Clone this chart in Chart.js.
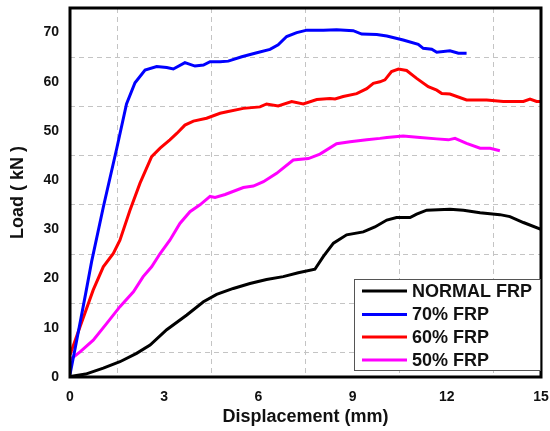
<!DOCTYPE html>
<html>
<head>
<meta charset="utf-8">
<script src="https://cdn.jsdelivr.net/npm/chart.js@4/dist/chart.umd.min.js"></script>
<style>
  html, body { margin: 0; padding: 0; background: #fff; }
</style>
</head>
<body>
<canvas id="loadChart" width="550" height="431"></canvas>
<script>
// load vs displacement
const seriesNames = ["NORMAL FRP", "70% FRP", "60% FRP", "50% FRP"];
const seriesColors = ["#000000", "#0000ff", "#ff0000", "#ff00ff"];

const dispNormal = [0, 0.5, 1.06, 1.59, 2.12, 2.55, 3.08, 3.72, 4.25, 4.67, 5.2, 5.73, 6.26, 6.79, 7.27, 7.8, 8.07, 8.39, 8.81, 9.34, 9.71, 10.09, 10.4, 10.83, 11.04, 11.36, 12.1, 12.53, 13.06, 13.69, 14.01, 14.44, 15];
const loadNormal = [0.1, 0.6, 1.8, 3.1, 4.8, 6.5, 9.6, 12.6, 15.3, 16.8, 18.0, 19.0, 19.8, 20.4, 21.2, 21.9, 24.5, 27.2, 28.9, 29.5, 30.5, 31.9, 32.4, 32.4, 33.1, 33.9, 34.1, 33.9, 33.4, 33.0, 32.6, 31.4, 30.0];

const disp70 = [0, 0.2, 0.35, 0.5, 0.69, 1.06, 1.49, 1.8, 2.07, 2.39, 2.76, 3.08, 3.29, 3.66, 3.98, 4.25, 4.46, 4.78, 5.04, 5.47, 5.95, 6.37, 6.63, 6.9, 7.22, 7.54, 8.07, 8.49, 9.02, 9.29, 9.77, 10.09, 10.61, 11.09, 11.25, 11.52, 11.68, 12.1, 12.37, 12.63];
const load70 = [0.5, 7, 12, 17, 23.5, 34.5, 46.5, 55.5, 59.8, 62.4, 63.1, 62.9, 62.6, 63.9, 63.2, 63.4, 64.1, 64.1, 64.2, 65.1, 65.9, 66.6, 67.5, 69.2, 70.0, 70.5, 70.5, 70.6, 70.4, 69.7, 69.6, 69.3, 68.5, 67.6, 66.8, 66.6, 66.0, 66.3, 65.8, 65.8];

const disp60 = [0, 0.32, 0.74, 1.06, 1.38, 1.59, 1.91, 2.23, 2.6, 2.87, 3.18, 3.4, 3.66, 3.93, 4.35, 4.78, 5.0, 5.52, 6.05, 6.26, 6.63, 7.06, 7.43, 7.86, 8.28, 8.44, 8.7, 9.13, 9.45, 9.66, 9.87, 10.03, 10.24, 10.46, 10.72, 11.04, 11.41, 11.68, 11.84, 12.1, 12.63, 13.27, 13.8, 14.44, 14.65, 14.86, 15];
const load60 = [4.5, 10.2, 17.7, 22.4, 25.1, 27.8, 33.9, 39.4, 44.8, 46.5, 48.2, 49.5, 51.2, 52.0, 52.6, 53.6, 53.9, 54.6, 54.9, 55.5, 55.1, 56.0, 55.5, 56.4, 56.6, 56.5, 57.0, 57.6, 58.6, 59.7, 60.0, 60.4, 62.1, 62.6, 62.3, 60.7, 59.0, 58.3, 57.6, 57.5, 56.3, 56.3, 56.0, 56.0, 56.5, 56.0, 56.0];

const disp50 = [0, 0.32, 0.74, 1.17, 1.59, 2.02, 2.33, 2.6, 2.87, 3.18, 3.5, 3.82, 4.14, 4.46, 4.62, 4.94, 5.52, 5.84, 6.16, 6.58, 7.11, 7.59, 7.96, 8.49, 8.92, 9.45, 9.87, 10.09, 10.61, 11.15, 11.68, 12.05, 12.26, 12.63, 13.06, 13.38, 13.69];
const load50 = [3.5, 5.1, 7.5, 10.9, 14.3, 17.3, 20.4, 22.4, 25.1, 27.8, 31.2, 33.6, 35.0, 36.7, 36.5, 37.1, 38.5, 38.8, 39.7, 41.4, 44.1, 44.4, 45.3, 47.4, 47.8, 48.2, 48.5, 48.7, 49.0, 48.7, 48.4, 48.2, 48.5, 47.5, 46.5, 46.5, 46.0];

const xTickStep = 3;
const yTickStep = 10;

const seriesX = [dispNormal, disp70, disp60, disp50];
const seriesY = [loadNormal, load70, load60, load50];

function toPoints(xs, ys) {
  return xs.map((x, i) => ({ x: x, y: ys[i] }));
}

const datasets = seriesNames.map((name, i) => ({
  label: name,
  data: toPoints(seriesX[i], seriesY[i]),
  borderColor: seriesColors[i],
  backgroundColor: seriesColors[i],
  borderWidth: 3,
  pointRadius: 0,
  tension: 0,
  fill: false,
}));

// frame round the plot and the legend box inside it
const frameAndLegend = {
  id: "frameAndLegend",
  afterDraw(chart) {
    const { ctx, chartArea } = chart;
    ctx.save();
    ctx.strokeStyle = "#000";
    ctx.lineWidth = 3;
    ctx.strokeRect(chartArea.left, chartArea.top, chartArea.right - chartArea.left, chartArea.bottom - chartArea.top);

    const w = 187, h = 92;
    const bx = chartArea.right - w, by = chartArea.bottom - 98;
    ctx.fillStyle = "#fff";
    ctx.fillRect(bx, by, w, h);
    ctx.strokeStyle = "#555";
    ctx.lineWidth = 1;
    ctx.strokeRect(bx + 0.5, by + 0.5, w - 1, h - 1);

    ctx.font = "bold 18px 'Liberation Sans', Arial, sans-serif";
    ctx.textBaseline = "middle";
    ctx.textAlign = "left";
    const rows = [12, 35.5, 58, 81];
    chart.data.datasets.forEach((ds, i) => {
      const ry = by + rows[i];
      ctx.strokeStyle = ds.borderColor;
      ctx.lineWidth = 3;
      ctx.beginPath();
      ctx.moveTo(bx + 8, ry);
      ctx.lineTo(bx + 53, ry);
      ctx.stroke();
      ctx.fillStyle = "#111";
      ctx.fillText(ds.label, bx + 58, ry + 1);
    });
    ctx.restore();
  },
};

const tickFont = { family: "'Liberation Sans', Arial, sans-serif", size: 14, weight: "bold" };
const titleFont = { family: "'Liberation Sans', Arial, sans-serif", size: 18, weight: "bold" };
const gridStyle = {
  offset: true,
  color: "#c4c4c4",
  lineWidth: 1,
  drawTicks: false,
};

new Chart(document.getElementById("loadChart"), {
  type: "line",
  data: { datasets: datasets },
  options: {
    responsive: false,
    animation: false,
    layout: { padding: { left: 0, right: 9, top: 8, bottom: 0 } },
    plugins: {
      legend: { display: false },
      tooltip: { enabled: false },
    },
    scales: {
      x: {
        type: "linear",
        min: 0,
        max: 15,
        afterFit: (scale) => {
          scale.height = 54;
          scale.paddingLeft = 0;
          scale.paddingRight = 0;
        },
        border: { display: false, dash: [5, 4] },
        grid: gridStyle,
        ticks: { stepSize: xTickStep, padding: 12, color: "#111", font: tickFont, includeBounds: false },
        title: { display: true, text: "Displacement (mm)", color: "#111", font: titleFont, padding: { top: 0, bottom: 3 } },
      },
      y: {
        type: "linear",
        min: 0,
        max: 75,
        afterFit: (scale) => {
          scale.width = 70;
          scale.paddingTop = 0;
          scale.paddingBottom = 0;
        },
        border: { display: false, dash: [5, 4] },
        grid: gridStyle,
        ticks: { stepSize: yTickStep, padding: 11, color: "#111", font: tickFont, includeBounds: false },
        title: { display: true, text: "Load ( kN )", color: "#111", font: titleFont, padding: { top: 7, bottom: 0 } },
      },
    },
  },
  plugins: [frameAndLegend],
});
</script>
</body>
</html>
